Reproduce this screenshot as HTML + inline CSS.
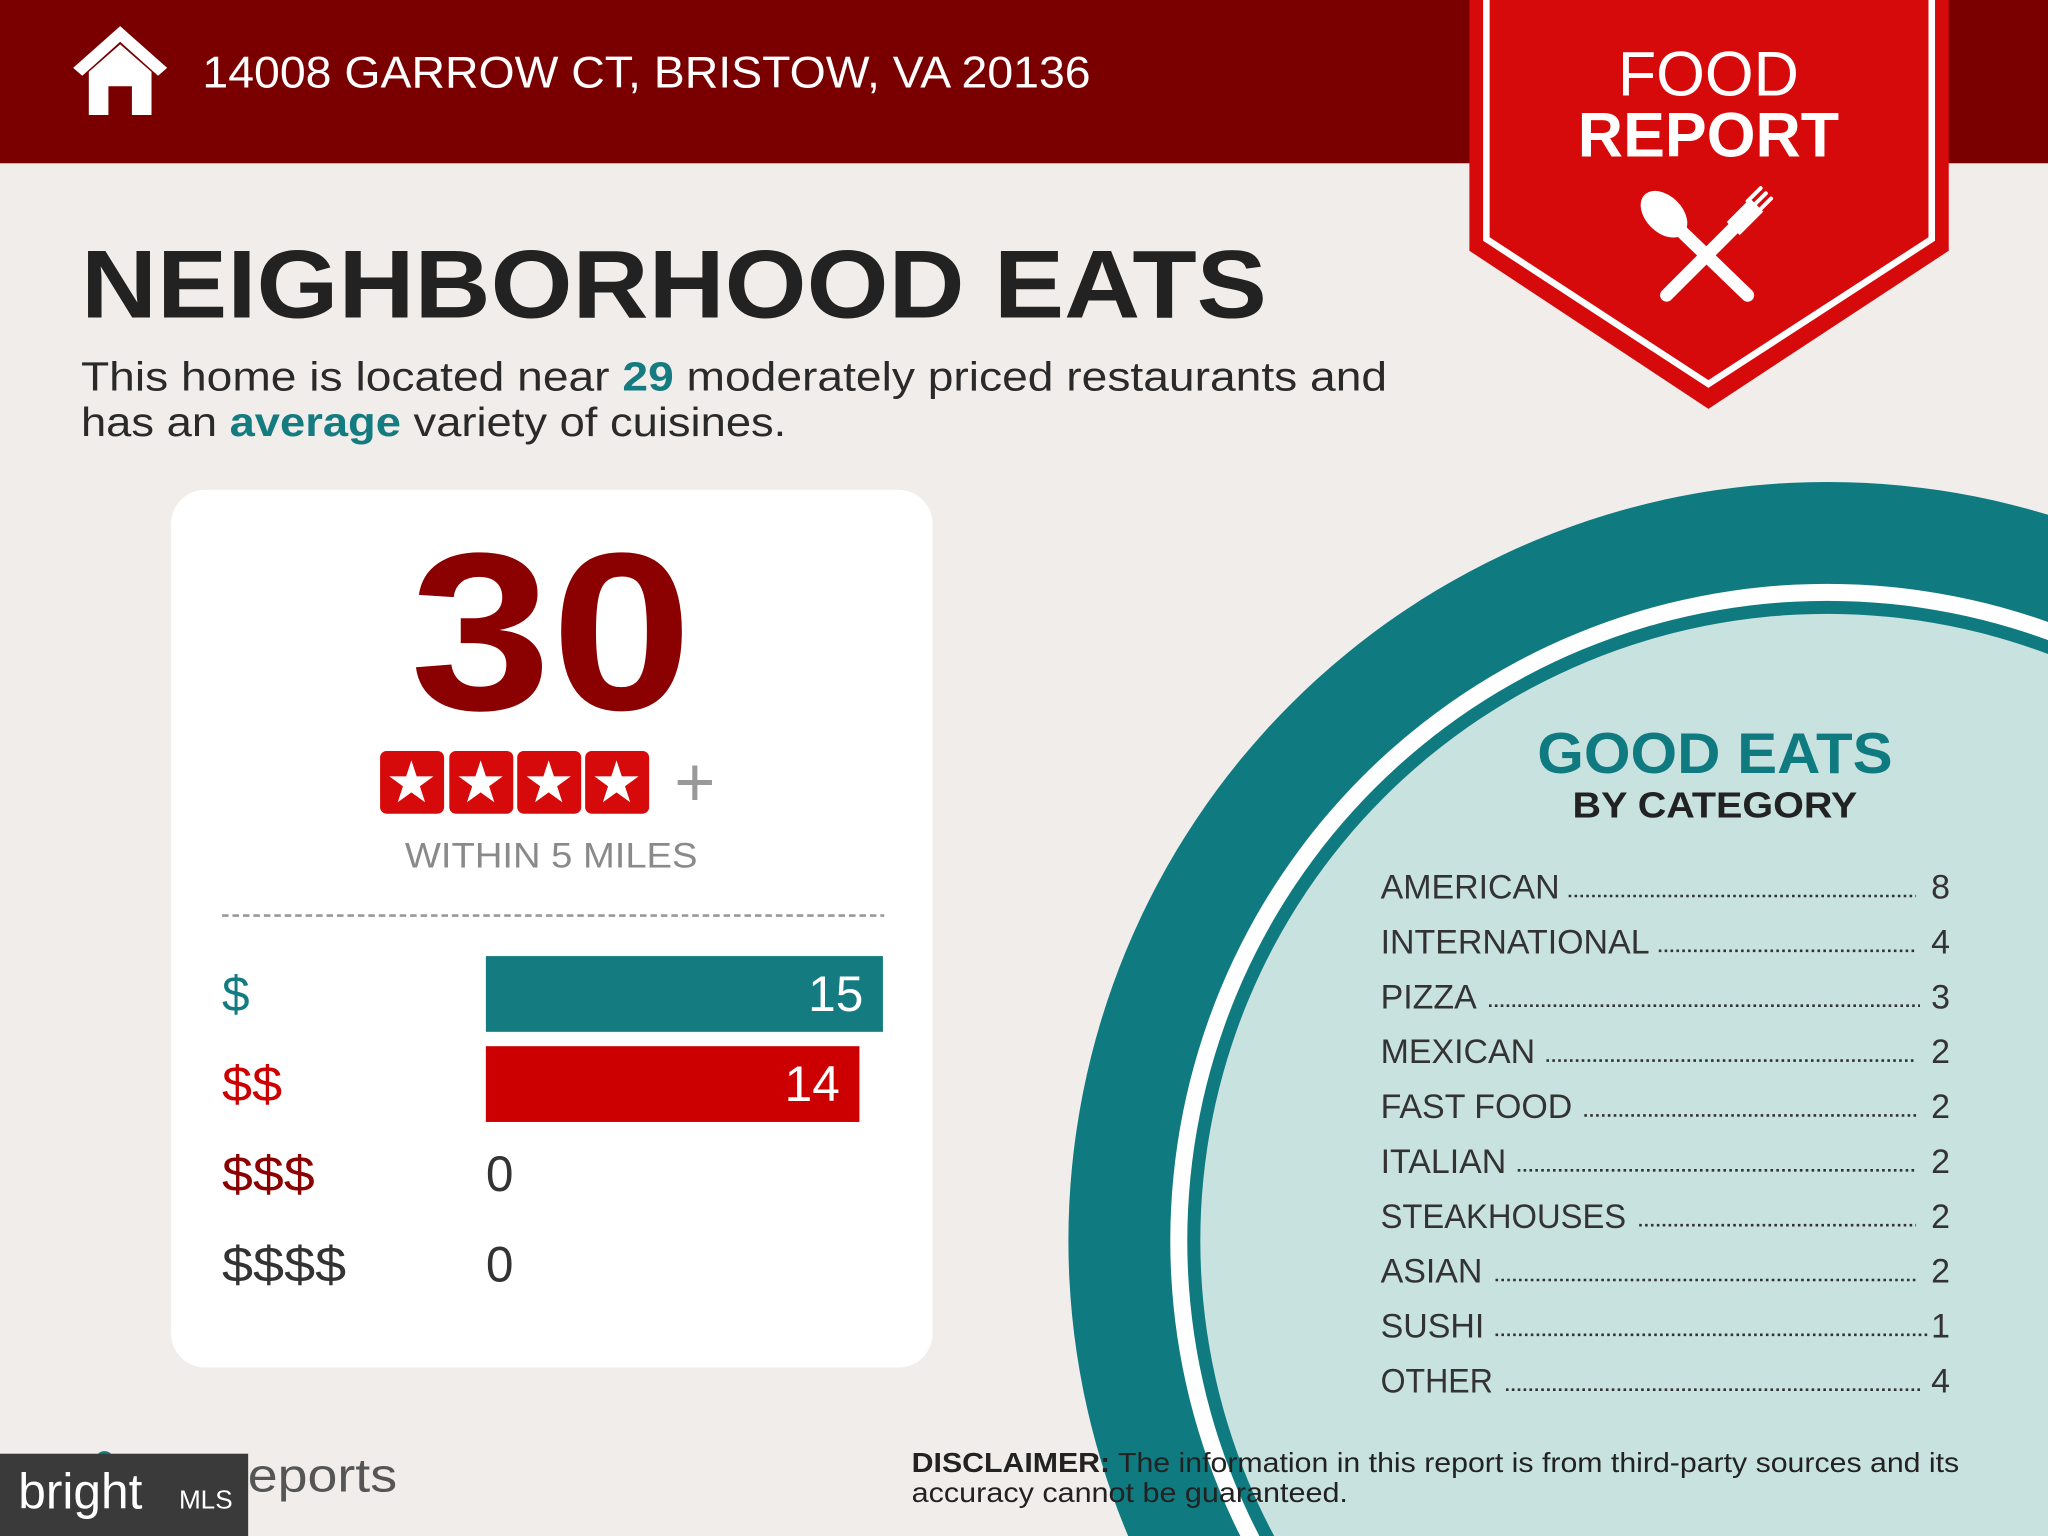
<!DOCTYPE html>
<html><head><meta charset="utf-8"><style>
html,body{margin:0;padding:0;background:#f1edea;width:2048px;height:1536px;overflow:hidden;}
svg{display:block;}
text{font-family:"Liberation Sans",sans-serif;}
</style></head><body>
<svg width="2048" height="1536" viewBox="0 0 1568 1176" xmlns="http://www.w3.org/2000/svg">
<rect width="1568" height="1176" fill="#f1edea"/>
<rect width="1568" height="125" fill="#7a0000"/>
<path d="M56 52 L92 20 L128 52 L121 58 L92 32 L63 58 Z" fill="#fff"/>
<path d="M68 55 L92 34 L116 55 L116 88 L101 88 L101 66 L83 66 L83 88 L68 88 Z" fill="#fff"/>
<text x="155" y="67" font-size="34" fill="#fff" textLength="680" lengthAdjust="spacingAndGlyphs">14008 GARROW CT, BRISTOW, VA 20136</text>
<polygon points="1125,0 1492,0 1492,192 1308,313 1125,192" fill="#d60a0a"/>
<polyline points="1138,0 1138,183 1308,294 1479,183 1479,0" fill="none" stroke="#fff" stroke-width="5"/>
<text x="1308" y="73" font-size="48" fill="#fff" text-anchor="middle">FOOD</text>
<text x="1308" y="120" font-size="48" font-weight="bold" fill="#fff" text-anchor="middle">REPORT</text>
<g stroke="#fff" stroke-linecap="round" fill="#fff">
<line x1="1280" y1="170" x2="1338" y2="226" stroke-width="10"/>
<ellipse cx="1274" cy="164" rx="14" ry="21" transform="rotate(-45 1274 164)" stroke="none"/>
<line x1="1330" y1="172" x2="1276" y2="226" stroke-width="10"/>
<path d="M1322 170 L1340 152 L1350 162 L1332 180 Z" stroke="none"/>
<g stroke-width="3"><line x1="1338" y1="154" x2="1348" y2="144"/><line x1="1342" y1="158" x2="1352" y2="148"/><line x1="1346" y1="162" x2="1356" y2="152"/></g>
</g>
<text x="62" y="243" font-size="74" font-weight="bold" fill="#222" textLength="908" lengthAdjust="spacingAndGlyphs">NEIGHBORHOOD EATS</text>
<text x="62" y="299" font-size="31" fill="#2a2a2a" textLength="1000" lengthAdjust="spacingAndGlyphs">This home is located near <tspan fill="#147c80" font-weight="bold">29</tspan> moderately priced restaurants and</text>
<text x="62" y="334" font-size="31" fill="#2a2a2a" textLength="540" lengthAdjust="spacingAndGlyphs">has an <tspan fill="#147c80" font-weight="bold">average</tspan> variety of cuisines.</text>
<rect x="131" y="375" width="583" height="672" rx="26" fill="#fff"/>
<text x="422" y="543" font-size="172" font-weight="bold" fill="#8b0000" text-anchor="middle" textLength="216" lengthAdjust="spacingAndGlyphs">30</text>
<g fill="#d60a0a">
<rect x="291" y="575" width="49" height="48" rx="5"/><rect x="344" y="575" width="49" height="48" rx="5"/><rect x="396" y="575" width="49" height="48" rx="5"/><rect x="448" y="575" width="49" height="48" rx="5"/>
</g>
<g fill="#fff" font-size="44" text-anchor="middle"><text x="315" y="614">★</text><text x="368" y="614">★</text><text x="420" y="614">★</text><text x="472" y="614">★</text></g>
<text x="532" y="617" font-size="54" fill="#999" text-anchor="middle">+</text>
<text x="422" y="664" font-size="27" fill="#8a8a8a" text-anchor="middle" textLength="224" lengthAdjust="spacingAndGlyphs">WITHIN 5 MILES</text>
<line x1="170" y1="701" x2="677" y2="701" stroke="#999" stroke-width="2" stroke-dasharray="5,3"/>
<rect x="372" y="732" width="304" height="58" fill="#147c80"/>
<rect x="372" y="801" width="286" height="58" fill="#cc0000"/>
<g font-size="38">
<text x="170" y="774" fill="#147c80">$</text>
<text x="170" y="843" fill="#cc0000" textLength="46" lengthAdjust="spacingAndGlyphs">$$</text>
<text x="170" y="912" fill="#8b0000" textLength="71" lengthAdjust="spacingAndGlyphs">$$$</text>
<text x="170" y="981" fill="#333" textLength="95" lengthAdjust="spacingAndGlyphs">$$$$</text>
<text x="661" y="774" fill="#fff" text-anchor="end">15</text>
<text x="643" y="843" fill="#fff" text-anchor="end">14</text>
<text x="372" y="912" fill="#333">0</text>
<text x="372" y="981" fill="#333">0</text>
</g>
<circle cx="1399" cy="950" r="581" fill="#0f7b80"/>
<circle cx="1399" cy="950" r="503" fill="#fff"/>
<circle cx="1399" cy="950" r="490" fill="#0f7b80"/>
<circle cx="1399" cy="950" r="480" fill="#c8e2df"/>
<text x="1313" y="592" font-size="44" font-weight="bold" fill="#0f7b80" text-anchor="middle" textLength="272" lengthAdjust="spacingAndGlyphs">GOOD EATS</text>
<text x="1313" y="626" font-size="28" font-weight="bold" fill="#222" text-anchor="middle" textLength="218" lengthAdjust="spacingAndGlyphs">BY CATEGORY</text>
<g font-size="26" fill="#333">
<text x="1057" y="688">AMERICAN</text><text x="1493" y="688" text-anchor="end">8</text>
<text x="1057" y="730">INTERNATIONAL</text><text x="1493" y="730" text-anchor="end">4</text>
<text x="1057" y="772">PIZZA</text><text x="1493" y="772" text-anchor="end">3</text>
<text x="1057" y="814">MEXICAN</text><text x="1493" y="814" text-anchor="end">2</text>
<text x="1057" y="856">FAST FOOD</text><text x="1493" y="856" text-anchor="end">2</text>
<text x="1057" y="898">ITALIAN</text><text x="1493" y="898" text-anchor="end">2</text>
<text x="1057" y="940" textLength="188" lengthAdjust="spacingAndGlyphs">STEAKHOUSES</text><text x="1493" y="940" text-anchor="end">2</text>
<text x="1057" y="982">ASIAN</text><text x="1493" y="982" text-anchor="end">2</text>
<text x="1057" y="1024">SUSHI</text><text x="1493" y="1024" text-anchor="end">1</text>
<text x="1057" y="1066" textLength="86" lengthAdjust="spacingAndGlyphs">OTHER</text><text x="1493" y="1066" text-anchor="end">4</text>
</g>
<g stroke="#333" stroke-width="2" stroke-dasharray="2,2.5">
<line x1="1201" y1="686" x2="1467" y2="686"/>
<line x1="1270" y1="728" x2="1467" y2="728"/>
<line x1="1140" y1="770" x2="1470" y2="770"/>
<line x1="1184" y1="812" x2="1467" y2="812"/>
<line x1="1213" y1="854" x2="1467" y2="854"/>
<line x1="1162" y1="896" x2="1467" y2="896"/>
<line x1="1255" y1="938" x2="1467" y2="938"/>
<line x1="1145" y1="980" x2="1467" y2="980"/>
<line x1="1145" y1="1022" x2="1476" y2="1022"/>
<line x1="1153" y1="1064" x2="1470" y2="1064"/>
</g>
<text x="698" y="1127" font-size="21" fill="#222" textLength="802" lengthAdjust="spacingAndGlyphs"><tspan font-weight="bold">DISCLAIMER:</tspan> The information in this report is from third-party sources and its</text>
<text x="698" y="1150" font-size="21" fill="#222" textLength="334" lengthAdjust="spacingAndGlyphs">accuracy cannot be guaranteed.</text>
<circle cx="80" cy="1118" r="7" fill="#147c80"/>
<text x="160" y="1142" font-size="36" fill="#555" textLength="144" lengthAdjust="spacingAndGlyphs">Reports</text>
<rect x="0" y="1113" width="190" height="63" fill="#3a3a3a"/>
<text x="14" y="1155" font-size="38" fill="#fff" font-family="Liberation Serif, serif">bright</text>
<text x="137" y="1155" font-size="20" fill="#fff">MLS</text>
</svg>
</body></html>
